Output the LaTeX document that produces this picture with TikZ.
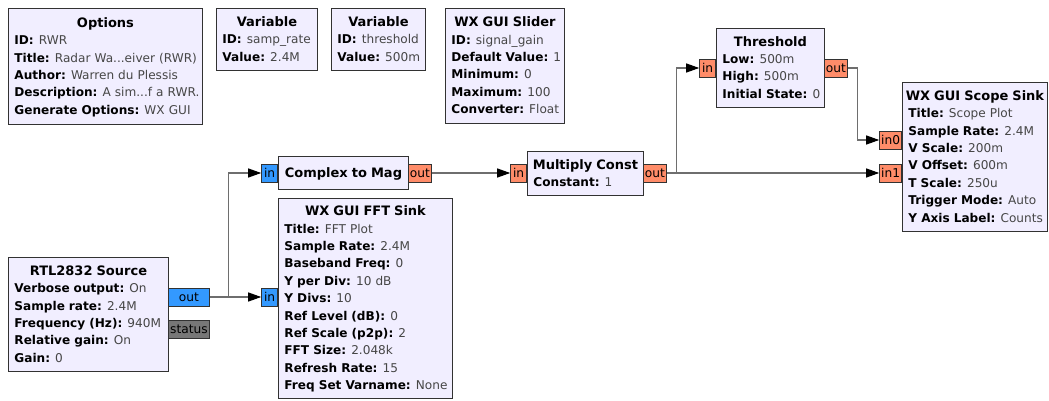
\documentclass[tikz,border=0pt]{standalone}
\usepackage{fontspec}
\setmainfont{DejaVu Sans}
\usetikzlibrary{arrows.meta}
\setlength{\parindent}{0pt}

\definecolor{blockfill}{RGB}{241,238,255}
\definecolor{blockline}{RGB}{50,50,50}
\definecolor{cplxport}{RGB}{51,153,255}
\definecolor{fltport}{RGB}{255,140,105}
\definecolor{msgport}{RGB}{119,119,119}
\definecolor{wire}{RGB}{110,110,110}
\definecolor{valtext}{RGB}{70,70,70}

\newcommand\bodyfont{\fontsize{12.1}{17.4}\selectfont}
\newcommand\portfont{\fontsize{12.2}{13}\selectfont}
% block title, centred over the block, with a fixed top strut
\newcommand\btitle[1]{\makebox[\hsize][c]{\rule{0pt}{12.3pt}\fontsize{13}{17.4}\selectfont\bfseries #1}}
% parameter line: bold key, plain value
\newcommand\kv[2]{\mbox{\textbf{#1:}\hspace{0.42em}\textcolor{valtext}{#2}}}
\newcommand\lastdepth{\rule[-3.7pt]{0pt}{0pt}}

\tikzset{
  blk/.style={draw=blockline, fill=blockfill, line width=0.9pt, anchor=north west,
    inner xsep=6pt, inner ysep=0pt, align=left, font=\bodyfont},
  port/.style={draw=blockline, line width=0.8pt, inner sep=0pt, minimum height=18pt,
    font=\portfont},
  cport/.style={port, fill=cplxport},
  fport/.style={port, fill=fltport},
  mport/.style={port, fill=msgport},
  conn/.style={draw=wire, line width=1.1pt, -{Triangle[length=13pt,width=9pt,color=black]}}
}

\begin{document}
\begin{tikzpicture}[x=1pt, y=-1pt]
\useasboundingbox (0,0) rectangle (1049,401);

% ---- variable / option blocks ----
\node[blk, minimum width=194pt, minimum height=116pt, text width=182pt] (opt) at (8,8) {%
  \btitle{Options}\\
  \kv{ID}{RWR}\\
  \kv{Title}{Radar Wa...eiver (RWR)}\\
  \kv{Author}{Warren du Plessis}\\
  \kv{Description}{A sim...f a RWR.}\\
  \kv{Generate Options}{WX GUI}\lastdepth};

\node[blk, minimum width=101pt, minimum height=62pt, text width=89pt] (vsr) at (216,8) {%
  \btitle{Variable}\\
  \kv{ID}{samp\_rate}\\
  \kv{Value}{2.4M}\lastdepth};

\node[blk, minimum width=94pt, minimum height=62pt, text width=82pt] (vth) at (331,8) {%
  \btitle{Variable}\\
  \kv{ID}{threshold}\\
  \kv{Value}{500m}\lastdepth};

\node[blk, minimum width=119pt, minimum height=115pt, text width=107pt] (sld) at (445,8) {%
  \btitle{WX GUI Slider}\\
  \kv{ID}{signal\_gain}\\
  \kv{Default Value}{1}\\
  \kv{Minimum}{0}\\
  \kv{Maximum}{100}\\
  \kv{Converter}{Float}\lastdepth};

% ---- signal blocks ----
\node[blk, minimum width=160pt, minimum height=114pt, text width=148pt] (src) at (8,257) {%
  \btitle{RTL2832 Source}\\
  \kv{Verbose output}{On}\\
  \kv{Sample rate}{2.4M}\\
  \kv{Frequency (Hz)}{940M}\\
  \kv{Relative gain}{On}\\
  \kv{Gain}{0}\lastdepth};

\node[blk, minimum width=130pt, minimum height=33pt, text width=118pt] (c2m) at (278,156) {%
  \btitle{Complex to Mag}\lastdepth};

\node[blk, minimum width=174pt, minimum height=200pt, text width=162pt] (fft) at (278,198) {%
  \btitle{WX GUI FFT Sink}\\
  \kv{Title}{FFT Plot}\\
  \kv{Sample Rate}{2.4M}\\
  \kv{Baseband Freq}{0}\\
  \kv{Y per Div}{10 dB}\\
  \kv{Y Divs}{10}\\
  \kv{Ref Level (dB)}{0}\\
  \kv{Ref Scale (p2p)}{2}\\
  \kv{FFT Size}{2.048k}\\
  \kv{Refresh Rate}{15}\\
  \kv{Freq Set Varname}{None}\lastdepth};

\node[blk, minimum width=116pt, minimum height=44pt, text width=104pt] (mul) at (527,151) {%
  \btitle{Multiply Const}\\
  \kv{Constant}{1}\lastdepth};

\node[blk, minimum width=108pt, minimum height=79pt, text width=96pt] (thr) at (716,28) {%
  \btitle{Threshold}\\
  \kv{Low}{500m}\\
  \kv{High}{500m}\\
  \kv{Initial State}{0}\lastdepth};

\node[blk, minimum width=145pt, minimum height=149pt, text width=133pt] (scp) at (902,82) {%
  \btitle{WX GUI Scope Sink}\\
  \kv{Title}{Scope Plot}\\
  \kv{Sample Rate}{2.4M}\\
  \kv{V Scale}{200m}\\
  \kv{V Offset}{600m}\\
  \kv{T Scale}{250u}\\
  \kv{Trigger Mode}{Auto}\\
  \kv{Y Axis Label}{Counts}\lastdepth};

% ---- ports ----
\node[cport, minimum width=41pt, anchor=west] (srcout) at (168,297) {out};
\node[mport, minimum width=41pt, anchor=west] (srcstat) at (168,329.5) {status};
\node[cport, minimum width=16pt, anchor=east] (c2min) at (278,173) {in};
\node[fport, minimum width=23pt, anchor=west] (c2mout) at (408,173) {out};
\node[cport, minimum width=16pt, anchor=east] (fftin) at (278,297) {in};
\node[fport, minimum width=16pt, anchor=east] (mulin) at (527,173) {in};
\node[fport, minimum width=23pt, anchor=west] (mulout) at (643,173) {out};
\node[fport, minimum width=16pt, anchor=east] (thrin) at (716,68) {in};
\node[fport, minimum width=23pt, anchor=west] (throut) at (824,68) {out};
\node[fport, minimum width=22pt, anchor=east] (scpin0) at (902,140) {in0};
\node[fport, minimum width=22pt, anchor=east] (scpin1) at (902,173) {in1};

% ---- connections ----
\draw[conn] (srcout.east) -- ++(19,0) |- (c2min.west);
\draw[conn] (srcout.east) -- (fftin.west);
\draw[conn] (c2mout.east) -- (mulin.west);
\draw[conn] (mulout.east) -- ++(10,0) |- (thrin.west);
\draw[conn] (mulout.east) -- (scpin1.west);
\draw[conn] (throut.east) -- ++(10,0) |- (scpin0.west);
\end{tikzpicture}
\end{document}
